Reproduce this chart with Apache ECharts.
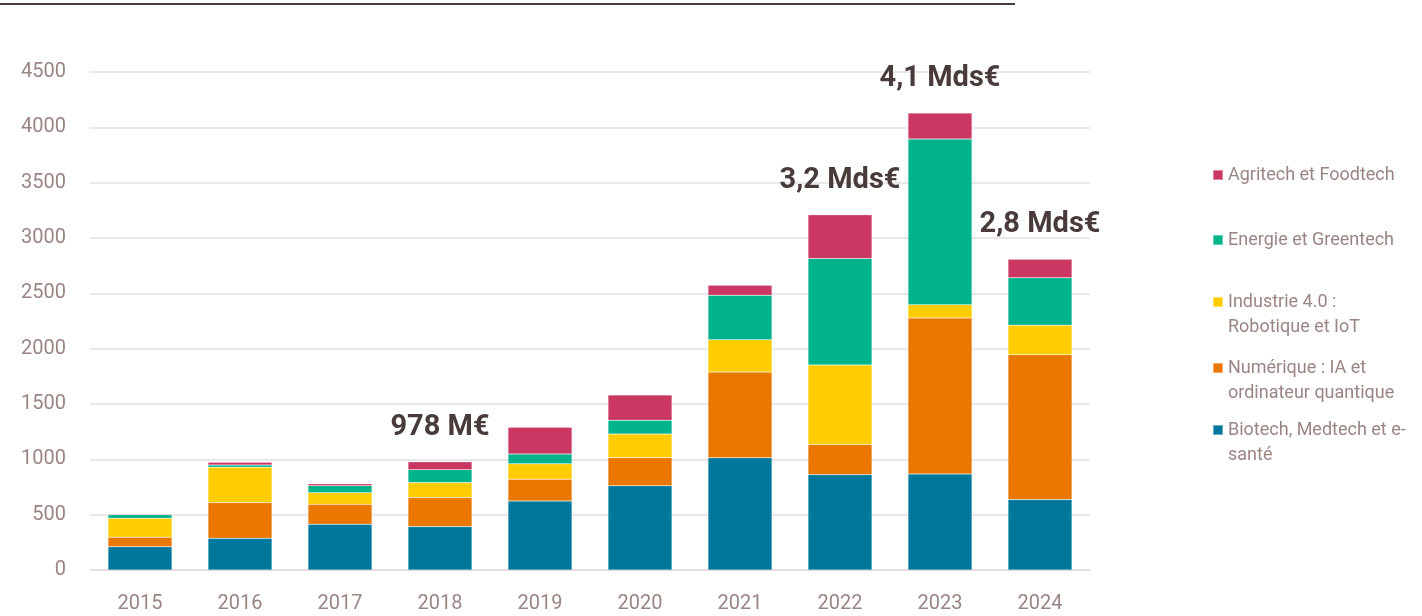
<!DOCTYPE html>
<html>
<head>
<meta charset="utf-8">
<script src="https://cdn.jsdelivr.net/npm/echarts@6/dist/echarts.min.js"></script>
<style>
  html, body { margin: 0; padding: 0; background: #fff; }
  #chart { width: 1422px; height: 616px; }
</style>
</head>
<body>
<div id="chart"></div>
<script>
const years = ['2015', '2016', '2017', '2018', '2019', '2020', '2021', '2022', '2023', '2024']

// montants par secteur (M€)
const biotech = [210, 287, 413, 392, 624, 762, 1015, 862, 868, 636]
const numerique = [87, 322, 181, 263, 196, 253, 774, 271, 1410, 1310]
const industrie = [170, 320, 105, 135, 139, 214, 292, 720, 118, 266]
const energie = [32, 20, 63, 116, 90, 124, 401, 961, 1498, 428]
const agritech = [6, 25, 18, 72, 241, 229, 90, 395, 235, 169]

const totalLabels = ['', '', '', '978 M€', '', '', '', '3,2 Mds€', '4,1 Mds€', '2,8 Mds€']

const names = [
  'Biotech, Medtech et e-\nsanté',
  'Numérique : IA et\nordinateur quantique',
  'Industrie 4.0 :\nRobotique et IoT',
  'Energie et Greentech',
  'Agritech et Foodtech'
]
const colors = ['#00789b', '#e97700', '#ffcc00', '#00b38a', '#c93762']

const greyText = '#9b8583'
const darkText = '#4a3b3b'

const chart = echarts.init(document.getElementById('chart'))

function makeSeries(i, values) {
  return {
    name: names[i],
    type: 'bar',
    stack: 'total',
    barWidth: '64%',
    itemStyle: {
      color: colors[i],
      borderColor: 'rgba(255,255,255,0.4)',
      borderWidth: 0.5
    },
    data: values
  }
}

const agriSeries = makeSeries(4, agritech.map((v, i) => ({
  value: v,
  label: {
    show: totalLabels[i] !== '',
    formatter: totalLabels[i]
  }
})))
agriSeries.label = {
  position: 'top',
  distance: 20,
  fontFamily: 'Roboto',
  fontWeight: 'bold',
  fontSize: 29,
  color: darkText
}

// une légende par item pour garder l'espacement d'origine
const legendRows = [
  { name: names[4], y: 175, lines: 1 },
  { name: names[3], y: 240, lines: 1 },
  { name: names[2], y: 302, lines: 2 },
  { name: names[1], y: 368, lines: 2 },
  { name: names[0], y: 430, lines: 2 }
]
const lh = 25

const option = {
  animation: false,
  grid: {
    left: 90,
    right: 332,
    top: 72,
    bottom: 46
  },
  legend: legendRows.map(r => ({
    data: [r.name],
    orient: 'vertical',
    left: 1212,
    top: r.lines === 1 ? r.y - lh / 2 : r.y - lh * 1.5,
    padding: 0,
    itemWidth: 10,
    itemHeight: 10,
    itemGap: 0,
    icon: 'rect',
    selectedMode: false,
    // ligne vide devant : la 1re ligne du texte reste alignée sur le carré
    formatter: name => (r.lines === 1 ? name : '\n' + name),
    textStyle: {
      fontFamily: 'Roboto',
      fontSize: 18,
      lineHeight: lh,
      color: greyText
    }
  })),
  xAxis: {
    type: 'category',
    data: years,
    axisTick: { show: false },
    axisLine: { lineStyle: { color: '#e3dcdd', width: 1.5 } },
    axisLabel: {
      margin: 24,
      fontFamily: 'Roboto',
      fontSize: 20,
      color: greyText
    }
  },
  yAxis: {
    type: 'value',
    min: 0,
    max: 4500,
    interval: 500,
    axisLine: { show: false },
    axisTick: { show: false },
    splitLine: { lineStyle: { color: '#e6dfe0', width: 1.5 } },
    axisLabel: {
      margin: 24,
      fontFamily: 'Roboto',
      fontSize: 20,
      color: greyText,
      formatter: v => String(v)
    }
  },
  graphic: [{
    type: 'line',
    shape: { x1: 0, y1: 4, x2: 1015, y2: 4 },
    style: { stroke: darkText, lineWidth: 2 }
  }],
  series: [
    makeSeries(0, biotech),
    makeSeries(1, numerique),
    makeSeries(2, industrie),
    makeSeries(3, energie),
    agriSeries
  ]
}

chart.setOption(option)
</script>
</body>
</html>
